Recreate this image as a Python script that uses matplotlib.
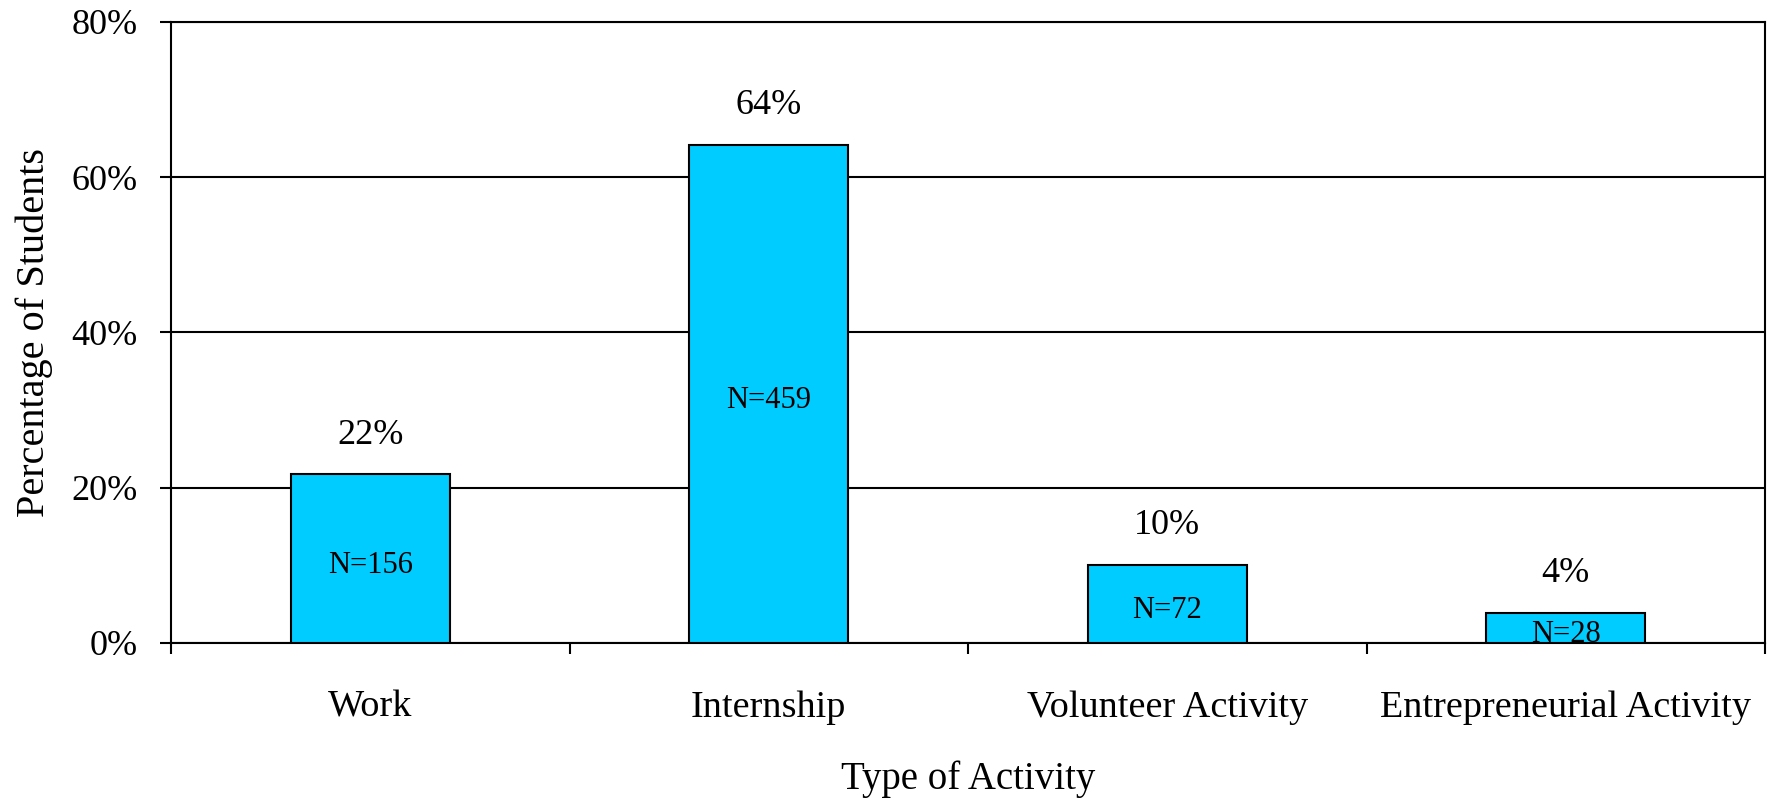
import numpy as np
import matplotlib
matplotlib.use("Agg")
import matplotlib.pyplot as plt

# 数据
categories = ["Work", "Internship", "Volunteer Activity", "Entrepreneurial Activity"]
percentages = [21.8, 64.2, 10.1, 3.9]
pct_labels = ["22%", "64%", "10%", "4%"]
n_labels = ["N=156", "N=459", "N=72", "N=28"]
yticks = [0, 20, 40, 60, 80]

plt.rcParams['font.family'] = ['Liberation Serif', 'DejaVu Serif']

fig = plt.figure(figsize=(17.71, 8.02), dpi=100)
ax = fig.add_axes([0.0966, 0.1983, 0.9, 0.7743])

x = np.arange(len(categories))
ax.bar(x, percentages, width=0.4, color="#00CCFF", edgecolor="black",
       linewidth=1.5, zorder=3)

# 柱顶百分比和柱内 N 值
for xi, v, pl, nl in zip(x, percentages, pct_labels, n_labels):
    ax.annotate(pl, (xi, v), xytext=(0, 16), textcoords="offset points",
                ha="center", va="bottom", fontsize=26)
    ax.annotate(nl, (xi, v / 2), xytext=(0, -5), textcoords="offset points",
                ha="center", va="center", fontsize=22, zorder=4)

### 设置坐标轴
ax.set_xlim(-0.5, len(categories) - 0.5)
ax.set_ylim(0, 80)
ax.set_yticks(yticks)
ax.set_yticklabels(["%d%%" % t for t in yticks], fontsize=26)
ax.yaxis.grid(True, color="black", linewidth=1.5, zorder=0)
ax.tick_params(axis="y", length=8, width=1.5, pad=16)

ax.set_xticks(x)
ax.set_xticklabels(categories, fontsize=27.5)
ax.set_xticks(np.arange(-0.5, len(categories)), minor=True)
ax.tick_params(axis="x", which="major", length=0, pad=34)
ax.tick_params(axis="x", which="minor", length=8, width=1.5)

for sp in ax.spines.values():
    sp.set_linewidth(1.5)

ax.set_xlabel("Type of Activity", fontsize=28, va="center")
ax.xaxis.set_label_coords(0.5, -0.219)
ax.set_ylabel("Percentage of Students", fontsize=29, va="center")
ax.yaxis.set_label_coords(-0.086, 0.5)

fig.savefig("out.png", dpi=100)
